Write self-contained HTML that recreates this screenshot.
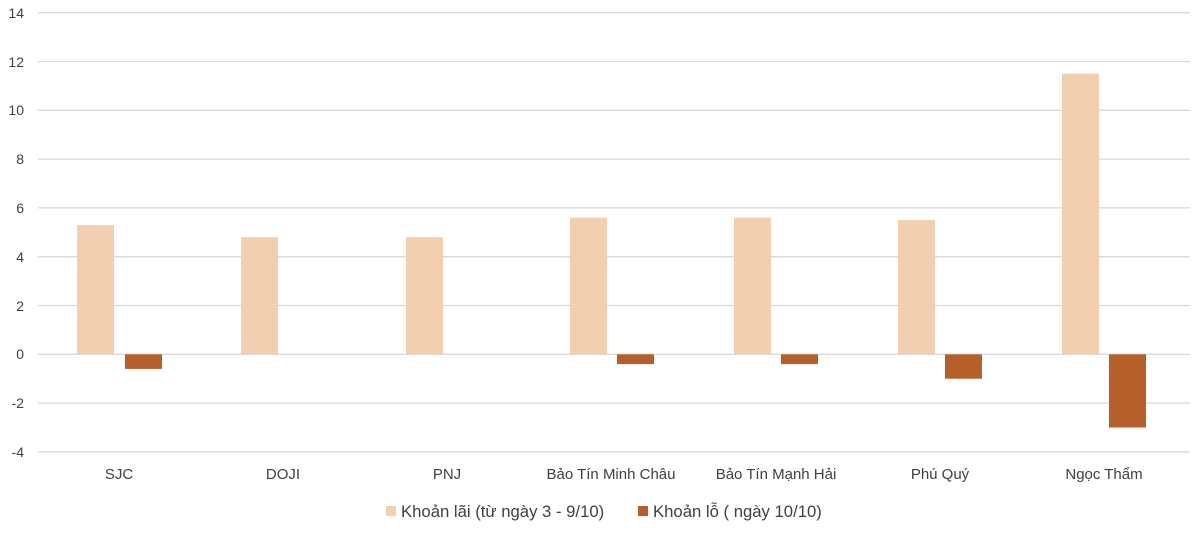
<!DOCTYPE html>
<html><head><meta charset="utf-8"><style>
html,body{margin:0;padding:0;background:#fff}
svg text{font-family:"Liberation Sans",sans-serif;fill:#404040}
</style></head><body>
<svg width="1200" height="535" viewBox="0 0 1200 535" xmlns="http://www.w3.org/2000/svg">
<g stroke="#d9d9d9" stroke-width="1.3">
<line x1="38" x2="1190" y1="12.7" y2="12.7"/>
<line x1="38" x2="1190" y1="61.5" y2="61.5"/>
<line x1="38" x2="1190" y1="110.3" y2="110.3"/>
<line x1="38" x2="1190" y1="159.1" y2="159.1"/>
<line x1="38" x2="1190" y1="207.9" y2="207.9"/>
<line x1="38" x2="1190" y1="256.7" y2="256.7"/>
<line x1="38" x2="1190" y1="305.5" y2="305.5"/>
<line x1="38" x2="1190" y1="354.3" y2="354.3"/>
<line x1="38" x2="1190" y1="403.1" y2="403.1"/>
<line x1="38" x2="1190" y1="451.9" y2="451.9"/>
</g>
<g font-size="14" text-anchor="end">
<text x="24" y="18">14</text><text x="24" y="67">12</text><text x="24" y="115">10</text>
<text x="24" y="164">8</text><text x="24" y="213">6</text><text x="24" y="262">4</text>
<text x="24" y="311">2</text><text x="24" y="359">0</text><text x="24" y="408">-2</text><text x="24" y="457">-4</text>
</g>
<g fill="#f2cfb1">
<rect x="77" y="225" width="37" height="129.3"/>
<rect x="241" y="237.2" width="37" height="117.1"/>
<rect x="406" y="237.2" width="37" height="117.1"/>
<rect x="570" y="217.7" width="37" height="136.6"/>
<rect x="734" y="217.7" width="37" height="136.6"/>
<rect x="898" y="220.1" width="37" height="134.2"/>
<rect x="1062" y="73.7" width="37" height="280.6"/>
</g>
<g fill="#b5602b">
<rect x="125" y="354.3" width="37" height="14.6"/>
<rect x="617" y="354.3" width="37" height="9.8"/>
<rect x="781" y="354.3" width="37" height="9.8"/>
<rect x="945" y="354.3" width="37" height="24.4"/>
<rect x="1109" y="354.3" width="37" height="73.2"/>
</g>
<g font-size="15" text-anchor="middle">
<text x="119" y="479">SJC</text>
<text x="283" y="479">DOJI</text>
<text x="447" y="479">PNJ</text>
<text x="611" y="479">Bảo Tín Minh Châu</text>
<text x="776" y="479">Bảo Tín Mạnh Hải</text>
<text x="940" y="479">Phú Quý</text>
<text x="1104" y="479">Ngọc Thẩm</text>
</g>
<rect x="386" y="506" width="10" height="10" fill="#f2cfb1"/>
<text x="401" y="517" font-size="16.7">Khoản lãi (từ ngày 3 - 9/10)</text>
<rect x="638" y="506" width="10" height="10" fill="#b5602b"/>
<text x="653" y="517" font-size="16.7">Khoản lỗ ( ngày 10/10)</text>
</svg>
</body></html>
